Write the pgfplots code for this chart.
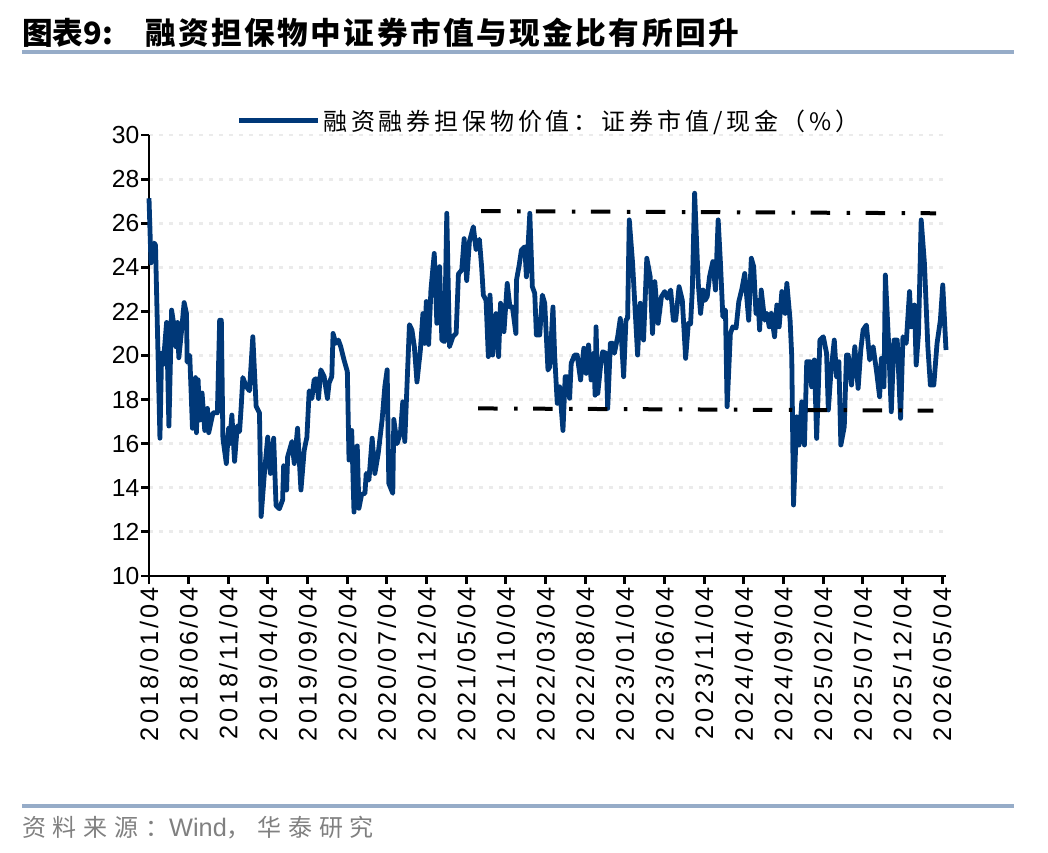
\documentclass[border=0pt]{standalone}
\usepackage{pgfplots}
\pgfplotsset{compat=1.18}
\usepackage{pgfplotstable}
\usepackage{fontspec}
\setmainfont{Liberation Sans}
\newfontfamily\cjk{Noto Sans CJK SC}
\definecolor{navy}{RGB}{0,56,120}
\definecolor{sepcol}{RGB}{150,172,200}
\definecolor{gridc}{RGB}{235,235,235}
\definecolor{srcgray}{RGB}{128,128,128}

\pgfplotstableread{
m v
0.00 27.13
0.25 24.20
0.66 25.10
0.82 25.00
1.38 16.25
1.59 20.10
1.79 19.60
2.22 21.50
2.51 16.80
2.85 22.06
3.17 21.30
3.39 20.40
3.60 21.50
3.76 19.90
4.10 21.10
4.43 22.40
4.73 21.90
4.81 19.70
5.14 20.00
5.48 16.70
5.86 19.00
5.98 16.50
6.19 18.90
6.40 17.07
6.69 18.30
7.03 16.60
7.37 17.60
7.53 16.50
8.07 17.40
8.62 17.40
8.91 21.60
9.12 21.60
9.32 16.25
9.75 15.10
10.04 16.70
10.16 16.00
10.45 17.30
10.79 15.20
11.13 16.80
11.42 16.55
11.63 17.70
11.83 19.00
12.26 18.60
12.67 18.40
13.09 20.85
13.51 17.70
13.93 17.40
14.14 12.70
14.55 14.65
14.97 16.30
15.31 14.65
15.72 16.25
16.02 13.20
16.44 13.05
16.85 13.45
16.98 15.00
17.35 13.90
17.48 15.40
18.03 16.10
18.32 15.10
18.73 16.70
19.16 13.90
19.57 15.70
19.91 16.30
20.20 18.40
20.54 18.05
20.83 18.90
21.12 18.95
21.37 18.05
21.67 19.35
22.08 19.05
22.50 18.05
22.71 18.75
23.05 19.05
23.21 21.00
23.55 20.55
23.88 20.70
24.18 20.40
24.59 19.80
25.01 19.27
25.22 15.26
25.56 16.60
25.85 12.90
26.26 15.90
26.47 13.07
26.81 13.70
27.23 13.75
27.39 14.65
27.73 14.35
28.14 16.25
28.48 14.65
28.90 15.55
29.40 17.10
29.74 18.60
30.03 19.35
30.24 14.20
30.74 13.75
30.87 17.10
31.28 16.00
31.71 16.50
32.00 17.90
32.25 16.10
32.84 21.40
33.16 21.15
33.46 20.40
33.79 18.80
34.22 20.25
34.54 21.90
34.76 20.55
34.97 22.45
35.26 20.50
35.55 22.97
35.97 24.63
36.30 21.46
36.64 24.03
36.93 20.70
37.26 20.63
37.55 26.45
37.89 20.40
38.31 20.85
38.73 21.00
39.02 23.70
39.44 23.88
39.74 25.30
40.06 23.40
40.40 25.16
40.90 25.84
41.24 24.80
41.66 25.27
41.94 24.03
42.16 22.74
42.50 22.50
42.79 19.95
43.00 22.74
43.33 20.02
43.75 21.90
44.08 19.95
44.33 22.37
44.76 21.08
45.17 23.27
45.51 22.20
45.83 22.20
46.26 21.00
46.34 23.42
46.68 24.10
46.96 24.78
47.39 24.93
47.59 23.57
48.02 26.45
48.34 23.12
48.64 22.82
48.85 20.93
49.27 20.93
49.60 22.74
49.90 22.37
50.31 19.34
50.53 19.49
50.94 22.20
51.15 20.03
51.48 17.83
51.78 18.58
52.20 16.60
52.48 19.04
52.73 19.04
53.04 18.06
53.24 19.65
53.66 20.02
53.99 20.02
54.42 18.89
54.83 20.33
55.12 19.19
55.42 20.48
55.75 18.89
56.09 20.10
56.25 18.20
56.37 21.30
56.59 18.28
56.93 19.49
57.21 20.17
57.63 20.10
57.84 17.60
58.18 20.55
58.47 20.55
58.68 20.10
59.10 20.85
59.43 21.68
59.85 19.04
60.14 21.60
60.35 21.70
60.56 26.15
60.98 24.18
61.61 20.02
61.94 22.37
62.36 20.70
62.77 24.41
63.20 23.57
63.49 21.00
63.78 23.35
64.20 21.46
64.62 22.67
65.03 22.90
65.37 22.60
65.78 22.97
66.12 21.60
66.41 21.60
66.84 23.12
67.25 22.50
67.67 19.87
68.01 21.46
68.29 21.43
68.51 22.97
68.80 27.36
69.26 23.27
69.55 21.91
69.85 22.97
70.10 22.50
70.39 22.67
70.68 23.57
71.10 24.26
71.43 22.97
71.77 26.15
72.06 24.18
72.36 21.76
72.69 22.06
72.90 17.68
73.31 21.00
73.61 21.30
74.03 21.25
74.37 22.44
74.78 23.05
75.12 23.72
75.62 21.60
75.95 24.41
76.25 24.03
76.54 21.91
76.79 22.50
77.00 21.16
77.20 22.97
77.63 21.60
77.92 21.91
78.21 21.30
78.46 21.91
78.88 20.85
79.17 22.29
79.46 21.30
79.80 22.90
80.21 21.91
80.43 23.27
80.84 21.60
81.05 19.95
81.27 13.22
81.68 17.22
81.97 15.94
82.31 17.90
82.65 15.94
82.94 19.72
83.35 19.72
83.56 18.58
83.90 19.80
84.19 16.24
84.60 20.70
85.03 20.85
85.44 20.10
85.66 17.53
85.98 19.19
86.41 20.70
86.70 19.04
86.99 19.72
87.24 15.94
87.67 16.77
87.95 20.02
88.17 20.02
88.58 18.66
89.00 20.40
89.42 18.51
89.75 20.25
90.05 21.16
90.46 21.38
90.88 19.80
91.31 20.40
91.72 19.34
92.13 18.13
92.35 19.87
92.68 18.58
92.85 23.65
93.26 20.55
93.60 17.45
93.94 20.70
94.35 20.70
94.77 17.15
95.07 20.85
95.48 20.55
95.90 22.90
96.11 21.30
96.52 22.29
96.74 19.57
97.03 21.00
97.37 26.15
97.78 24.18
98.21 20.40
98.53 18.66
98.96 18.66
99.37 20.55
99.79 21.60
100.09 23.20
100.50 20.25
}\ratio

\begin{document}
\begin{tikzpicture}
\begin{scope}[x=0.75pt,y=-0.75pt]
\useasboundingbox (0,0) rectangle (1048,852);
\draw[sepcol, line width=2.4pt] (22,52) -- (1014,52);
\draw[sepcol, line width=2.4pt] (22,806) -- (1014,806);
\node[anchor=west, inner sep=0pt] at (22,33) {\cjk\bfseries\fontsize{23}{25}\selectfont 图表9:};
\node[anchor=west, inner sep=0pt] at (145,33) {\cjk\bfseries\fontsize{23}{25}\selectfont\addfontfeatures{LetterSpace=8}融资担保物中证券市值与现金比有所回升};
\node[anchor=west, inner sep=0pt, text=srcgray] at (22,828) {\cjk\fontsize{18}{20}\selectfont\addfontfeatures{LetterSpace=28}资料来源：{\rmfamily\fontsize{19}{20}\selectfont Wind}，华泰研究};
\end{scope}
\begin{axis}[
  at={(111.75pt,-432pt)}, anchor=south west,
  width=597.75pt, height=330.75pt, scale only axis,
  xmin=0, xmax=100.5, ymin=10, ymax=30,
  axis x line*=bottom, axis y line*=left,
  axis line style={-, line width=2.2pt, black},
  xtick={0,5,...,100},
  xticklabels={2018/01/04,2018/06/04,2018/11/04,2019/04/04,2019/09/04,2020/02/04,2020/07/04,2020/12/04,2021/05/04,2021/10/04,2022/03/04,2022/08/04,2023/01/04,2023/06/04,2023/11/04,2024/04/04,2024/09/04,2025/02/04,2025/07/04,2025/12/04,2026/05/04},
  ytick={10,12,...,30},
  tick align=outside, major tick length=6pt,
  tick style={line width=2.2pt, black},
  /pgf/number format/assume math mode=true,
  x tick label style={rotate=90, anchor=east, font=\fontsize{19}{21}\selectfont\addfontfeatures{LetterSpace=12}, inner sep=2pt},
  y tick label style={font=\fontsize{18.5}{20}\selectfont, inner sep=1pt},
  ymajorgrids, major grid style={gridc, line width=2.2pt, dash pattern=on 3pt off 4.5pt},
  legend style={at={(0.110,1.032)}, anchor=west, draw=none, fill=none, inner sep=0pt,
    font=\cjk\fontsize{18}{20}\selectfont\addfontfeatures{LetterSpace=16}},
  legend image code/.code={\draw[#1, line width=3.75pt] (0pt,0pt) -- (59pt,0pt);},
  clip=false,
]
\addplot[navy, line width=3.6pt, line join=round] table[x=m, y=v] {\ratio};
\addlegendentry{融资融券担保物价值：证券市值/现金（\%）}
\addplot[black, line width=3pt, dash pattern=on 14.6pt off 12.4pt on 2.6pt off 11.6pt, forget plot] coordinates {(41.87,26.55) (99.25,26.45)};
\addplot[black, line width=3pt, dash pattern=on 14.6pt off 12.4pt on 2.6pt off 11.6pt, forget plot] coordinates {(41.50,17.60) (98.90,17.50)};
\end{axis}
\end{tikzpicture}
\end{document}
